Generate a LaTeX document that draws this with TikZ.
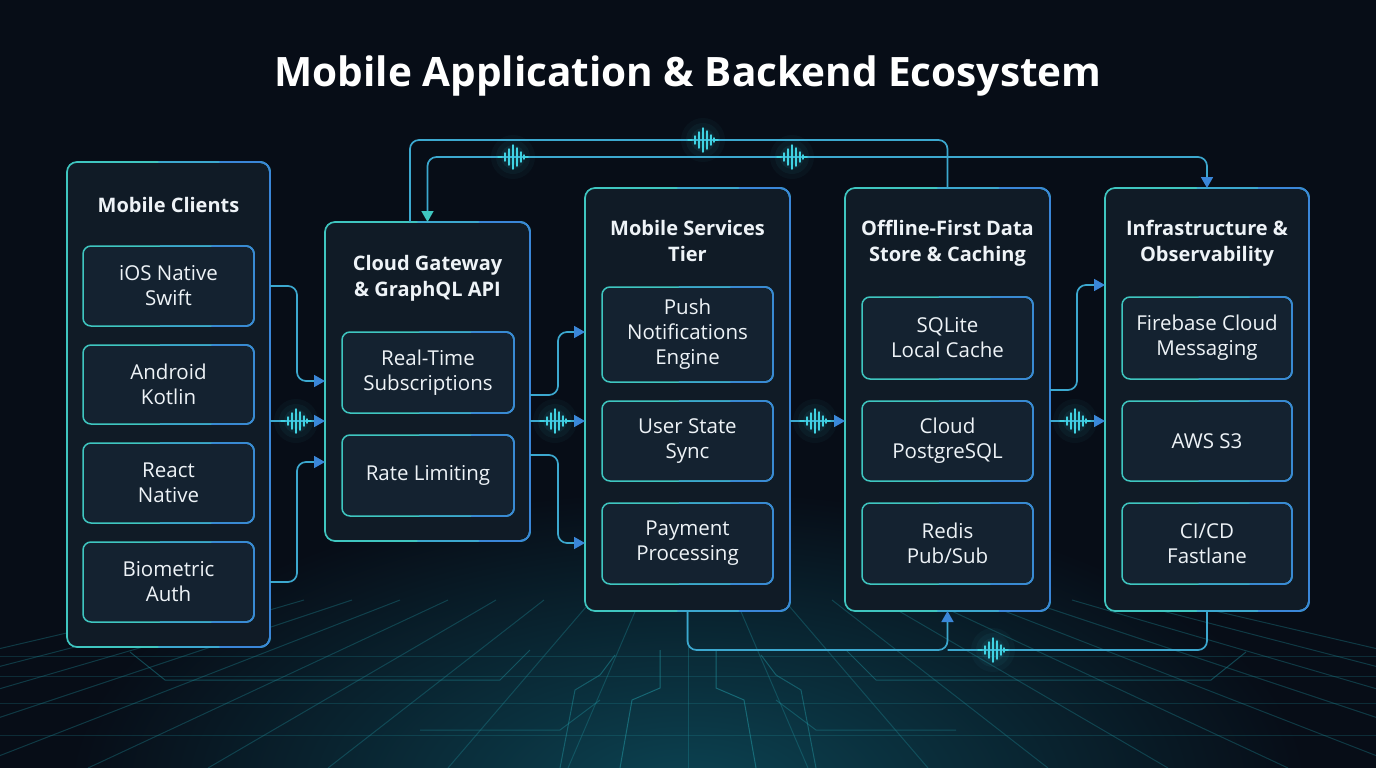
\documentclass[tikz,border=0pt]{standalone}
\usepackage{fontspec}
\setmainfont{Open Sans}
\usetikzlibrary{arrows.meta,calc}
\definecolor{bg}{HTML}{070D17}
\definecolor{glowc}{HTML}{0C4352}
\definecolor{boxfill}{HTML}{101B26}
\definecolor{innerfill}{HTML}{142230}
\definecolor{cteal}{HTML}{3FC6C0}
\definecolor{cmid}{HTML}{3CA8CF}
\definecolor{cblue}{HTML}{3A86D8}
\definecolor{pulsec}{HTML}{40D2E2}
\definecolor{gridc}{HTML}{1F8C98}
\definecolor{txt}{HTML}{EEF3F7}
\tikzset{
  outerbox/.style={draw=cteal, line width=1.7pt, fill=boxfill, rounded corners=10pt, inner sep=0pt, outer sep=0pt},
  innerbox/.style={draw=cteal, line width=1.5pt, fill=innerfill, rounded corners=8pt, inner sep=0pt, outer sep=0pt,
     align=center, text=txt, font=\fontsize{20.5}{25}\selectfont},
  btitle/.style={align=center, text=txt, font=\bfseries\fontsize{20}{26}\selectfont},
  conn/.style={draw=cmid, line width=1.7pt, rounded corners=9pt},
  arr/.style={-{Triangle[length=11pt,width=12pt,color=cblue]}},
  gridline/.style={draw=gridc, line width=1pt, opacity=0.35},
}
\newcommand\gborder[3]{% node, radius, width
  \begin{scope}
    \clip ($(#1.north west)!0.45!(#1.north east)+(0,-10)$) rectangle ($(#1.south east)+(10,10)$);
    \draw[cmid, line width=#3, rounded corners=#2] (#1.north west) rectangle (#1.south east);
  \end{scope}
  \begin{scope}
    \clip ($(#1.north west)!0.75!(#1.north east)+(0,-10)$) rectangle ($(#1.south east)+(10,10)$);
    \draw[cblue, line width=#3, rounded corners=#2] (#1.north west) rectangle (#1.south east);
  \end{scope}
}
\newcommand\pulseat[1]{%
  \begin{scope}[shift={#1}]
    \foreach \r/\o in {22/0.04,17/0.05,12/0.07,8/0.08}{\fill[pulsec, opacity=\o] (0,0) circle (\r);}
    \draw[pulsec, line width=1.5pt, line cap=round]
      (-15,0) -- (-11,0)
      (-8,-4) -- (-8,4)
      (-4,-8) -- (-4,8)
      (0,-12) -- (0,12)
      (4,-9) -- (4,9)
      (8,-5) -- (8,5)
      (11,-2) -- (11,2)
      (12,0) -- (15,0);
  \end{scope}
}
\begin{document}
\begin{tikzpicture}[x=1pt,y=-1pt]
\useasboundingbox (0,0) rectangle (1376,768);
\fill[bg] (0,0) rectangle (1376,768);
\begin{scope}
  \clip (0,0) rectangle (1376,768);
  \shade[inner color=glowc, outer color=bg] (688,790) ellipse (620 and 300);
  % perspective grid
  \foreach \k in {-10,...,10}{\draw[gridline] (688+\k*48,600) -- (688+\k*120,768);}
  \foreach \yy in {656,676,703,735}{\draw[gridline, opacity=0.25] (0,\yy) -- (1376,\yy);}
  % circuit traces
  \draw[gridline, opacity=0.6] (620,768) -- (632,700) -- (660,688) -- (660,650);
  \draw[gridline, opacity=0.6] (756,768) -- (744,700) -- (716,688) -- (716,650);
  \draw[gridline, opacity=0.5] (560,768) -- (575,690) -- (600,675) -- (615,655);
  \draw[gridline, opacity=0.5] (816,768) -- (801,690) -- (776,675) -- (761,655);
  \draw[gridline, opacity=0.45] (130,652) -- (165,680) -- (500,680) -- (530,650);
  \draw[gridline, opacity=0.45] (1246,652) -- (1211,680) -- (876,680) -- (846,650);
  \draw[gridline, opacity=0.4] (420,730) -- (560,730) -- (600,700);
  \draw[gridline, opacity=0.4] (956,730) -- (816,730) -- (776,700);
\end{scope}

\node[text=white, font=\bfseries\fontsize{40.5}{44}\selectfont] (title) at (688,76) {Mobile Application \& Backend Ecosystem};

% outer boxes
\node[outerbox, minimum width=203pt, minimum height=485pt] (clients) at (168.5,404.5) {};
\node[outerbox, minimum width=205pt, minimum height=319pt] (gateway) at (427.5,381.5) {};
\node[outerbox, minimum width=205pt, minimum height=423pt] (services) at (687.5,399.5) {};
\node[outerbox, minimum width=205pt, minimum height=423pt] (offline) at (947.5,399.5) {};
\node[outerbox, minimum width=204pt, minimum height=423pt] (infra) at (1207,399.5) {};
\foreach \n in {clients,gateway,services,offline,infra}{\gborder{\n}{10pt}{1.7pt}}

% titles
\node[btitle] (tclients) at (168.5,205) {Mobile Clients};
\node[btitle] (tgateway) at (427.5,278) {Cloud Gateway\\\& GraphQL API};
\node[btitle] (tservices) at (687.5,241) {Mobile Services\\Tier};
\node[btitle] (toffline) at (947.5,243) {Offline-First Data\\Store \& Caching};
\node[btitle] (tinfra) at (1207,243) {Infrastructure \&\\Observability};

% inner boxes
\node[innerbox, minimum width=171pt, minimum height=80pt] (ios) at (168.5,286) {iOS Native\\Swift};
\node[innerbox, minimum width=171pt, minimum height=79pt] (android) at (168.5,384.5) {Android\\Kotlin};
\node[innerbox, minimum width=171pt, minimum height=80pt] (react) at (168.5,483) {React\\Native};
\node[innerbox, minimum width=171pt, minimum height=80pt] (bio) at (168.5,582) {Biometric\\Auth};

\node[innerbox, minimum width=172pt, minimum height=81pt] (realtime) at (428,372.5) {Real-Time\\Subscriptions};
\node[innerbox, minimum width=172pt, minimum height=81pt] (rate) at (428,475.5) {Rate Limiting};

\node[innerbox, minimum width=171pt, minimum height=95pt] (push) at (687.5,334.5) {Push\\Notifications\\Engine};
\node[innerbox, minimum width=171pt, minimum height=80pt] (user) at (687.5,441) {User State\\Sync};
\node[innerbox, minimum width=171pt, minimum height=81pt] (payment) at (687.5,543.5) {Payment\\Processing};

\node[innerbox, minimum width=171pt, minimum height=82pt] (sqlite) at (947.5,338) {SQLite\\Local Cache};
\node[innerbox, minimum width=171pt, minimum height=80pt] (pg) at (947.5,441) {Cloud\\PostgreSQL};
\node[innerbox, minimum width=171pt, minimum height=81pt] (redis) at (947.5,543.5) {Redis\\Pub/Sub};

\node[innerbox, minimum width=170pt, minimum height=82pt] (firebase) at (1207,338) {Firebase Cloud\\Messaging};
\node[innerbox, minimum width=170pt, minimum height=80pt] (aws) at (1207,441) {AWS S3};
\node[innerbox, minimum width=170pt, minimum height=81pt] (cicd) at (1207,543.5) {CI/CD\\Fastlane};

\foreach \n in {ios,android,react,bio,realtime,rate,push,user,payment,sqlite,pg,redis,firebase,aws,cicd}{\gborder{\n}{8pt}{1.5pt}}

% connectors: clients -> gateway
\draw[conn, arr] (clients.east |- ios) -- (297,286) -- (297,381) -- (gateway.west |- 0,381);
\draw[conn, arr] (clients.east |- 0,421) -- (gateway.west |- 0,421);
\draw[conn, arr] (clients.east |- bio) -- (297,582) -- (297,462) -- (gateway.west |- 0,462);
% gateway -> services
\draw[conn, arr] (gateway.east |- 0,395) -- (558,395) -- (558,332) -- (services.west |- 0,332);
\draw[conn, arr] (gateway.east |- 0,421) -- (services.west |- 0,421);
\draw[conn, arr] (gateway.east |- 0,455) -- (558,455) -- (558,543) -- (services.west |- 0,543);
% services -> offline
\draw[conn, arr] (services.east |- 0,421) -- (offline.west |- 0,421);
% offline -> infra
\draw[conn, arr] (offline.east |- 0,390) -- (1077,390) -- (1077,285) -- (infra.west |- 0,285);
\draw[conn, arr] (offline.east |- 0,421) -- (infra.west |- 0,421);
% top links
\draw[conn] (gateway.north -| 410,0) -- (410,140) -- (offline.north |- 0,140) -- (offline.north);
\draw[conn, {Triangle[length=11pt,width=12pt,color=cteal]}-{Triangle[length=11pt,width=12pt,color=cblue]}]
  (gateway.north) -- (gateway.north |- 0,157) -- (infra.north |- 0,157) -- (infra.north);
% bottom links
\coordinate (junc) at (offline.south |- 0,650);
\draw[conn, arr] (services.south) -- (services.south |- 0,650) -- (junc) -- (offline.south);
\draw[conn] (infra.south) -- (infra.south |- 0,650) -- (junc);

% pulses
\pulseat{(296,421)}
\pulseat{(555,421)}
\pulseat{(815,421)}
\pulseat{(1075,421)}
\pulseat{(703,140)}
\pulseat{(513,157)}
\pulseat{(792,157)}
\pulseat{(993,650)}
\end{tikzpicture}
\end{document}
